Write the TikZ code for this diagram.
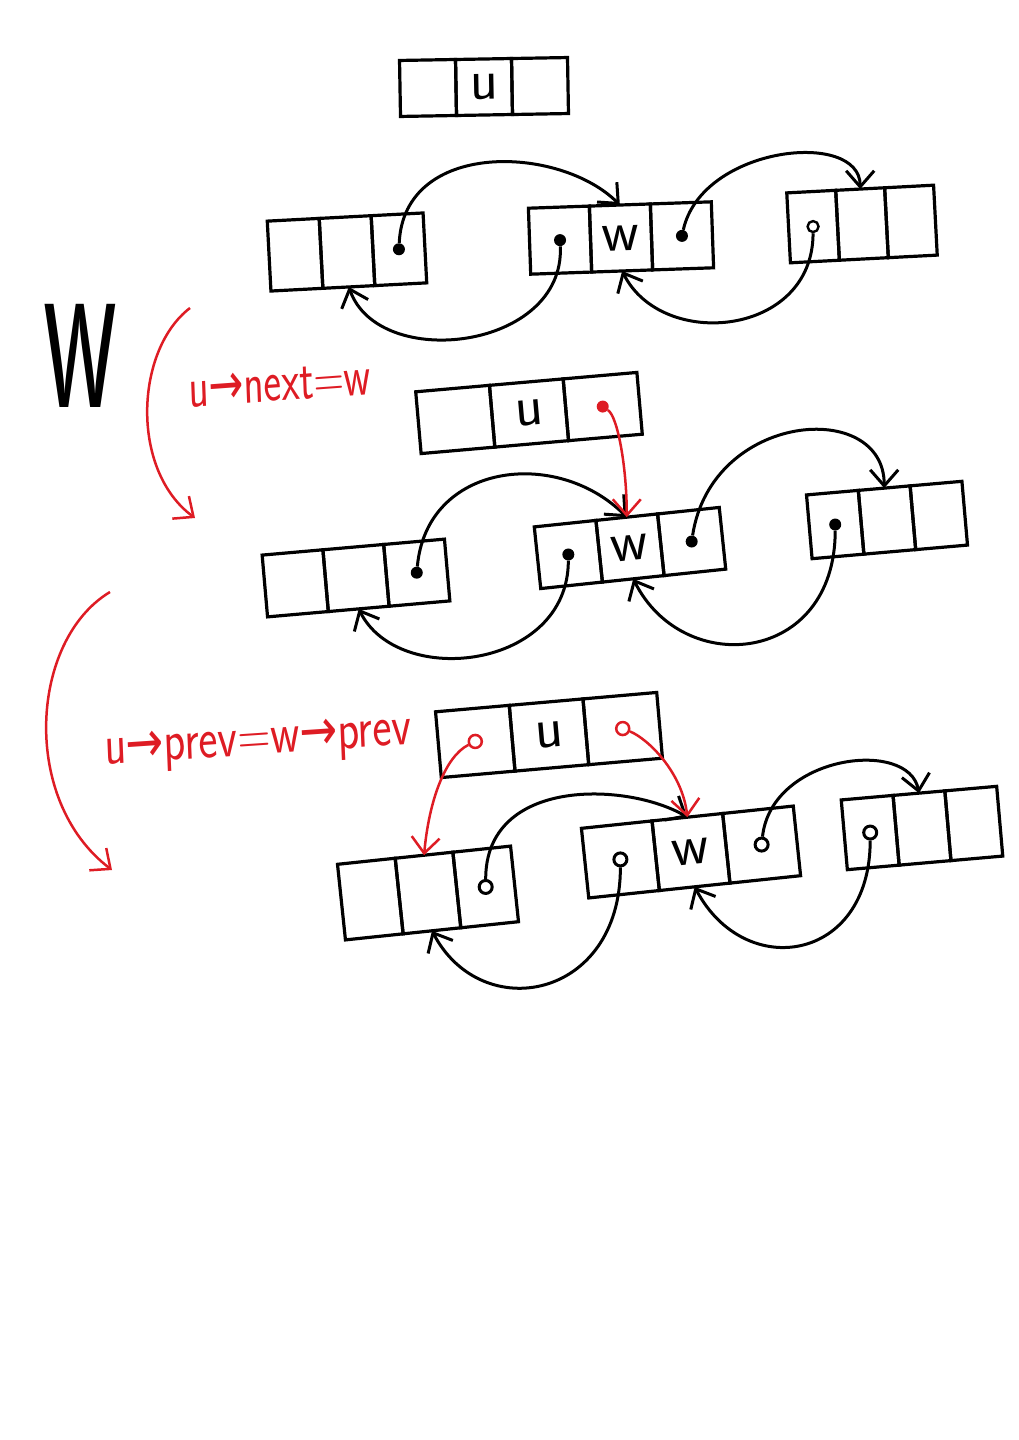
\documentclass[tikz,border=0pt]{standalone}
\usepackage{fontspec}
\newfontfamily\arrowfont{DejaVu Sans}
\usetikzlibrary{arrows.meta,positioning}
\definecolor{pen}{RGB}{222,28,36}
\newcommand\cellfont{\sffamily\fontsize{58}{58}\selectfont}
\newcommand\ptrsym{{\arrowfont →}}
\tikzset{
  cell/.style 2 args={draw, line width=3.2pt, inner sep=0pt, outer sep=0pt,
    minimum width=#1, minimum height=#2, font=\cellfont},
  dot/.style={circle, fill, inner sep=0pt, minimum size=12pt},
  ring/.style={circle, draw, line width=3pt, inner sep=0pt, minimum size=13pt},
  ptr/.style={line width=3pt, -{Straight Barb[length=16pt,width=28pt]}},
  redptr/.style={pen, line width=2.5pt, -{Straight Barb[length=16pt,width=28pt]}},
  note/.style={pen, inner sep=0pt, font=\sffamily\fontsize{58}{58}\selectfont},
}
\begin{document}
\begin{tikzpicture}[x=1pt,y=-1pt]
\useasboundingbox (0,0) rectangle (1019,1440);
% new node u
\node[cell={56}{56}, rotate=1] (u0m) at (484,87) {u};
\node[cell={56}{56}, rotate=1, left=0pt of u0m] (u0l) {};
\node[cell={56}{56}, rotate=1, right=0pt of u0m] (u0r) {};
% list before
\node[cell={52}{70}, rotate=3] (a1m) at (347,252) {};
\node[cell={52}{70}, rotate=3, left=0pt of a1m] (a1l) {};
\node[cell={52}{70}, rotate=3, right=0pt of a1m] (a1r) {};
\node[cell={61}{66}, rotate=2] (w1m) at (621,238) {w};
\node[cell={61}{66}, rotate=2, left=0pt of w1m] (w1l) {};
\node[cell={61}{66}, rotate=2, right=0pt of w1m] (w1r) {};
\node[cell={49}{70}, rotate=3] (b1m) at (862,224) {};
\node[cell={49}{70}, rotate=3, left=0pt of b1m] (b1l) {};
\node[cell={49}{70}, rotate=3, right=0pt of b1m] (b1r) {};
\node[dot] (a1p) at (a1r.center) {};
\node[dot] (w1q) at (w1l.center) {};
\node[dot] (w1p) at (w1r.center) {};
\node[ring, line width=2.4pt, minimum size=11pt] (b1q) at (b1l.center) {};
\draw[ptr] (a1p) .. controls +(5,-110) and +(-60,-60) .. (w1m.north);
\draw[ptr] (w1p) .. controls +(20,-90) and +(0,-60) .. (b1m.north);
\draw[ptr] (w1q) .. controls +(5,110) and +(30,85) .. (a1m.south);
\draw[ptr] (b1q) .. controls +(0,110) and +(40,80) .. (w1m.south);
% step 1
\node[font=\sffamily\fontsize{240}{240}\selectfont, xscale=0.48] (bigw) at (80,356) {w};
\coordinate (s1) at (190,308);
\coordinate (e1) at (195,518);
\draw[redptr] (s1) .. controls (135,350) and (130,470) .. (e1);
\node[note, xscale=0.72, rotate=3] (lnext) at (280,385) {u\ptrsym next=w};
\node[cell={74}{62}, rotate=5] (u2m) at (529,413) {u};
\node[cell={74}{62}, rotate=5, left=0pt of u2m] (u2l) {};
\node[cell={74}{62}, rotate=5, right=0pt of u2m] (u2r) {};
\node[cell={61}{62}, rotate=5] (a2m) at (356,578) {};
\node[cell={61}{62}, rotate=5, left=0pt of a2m] (a2l) {};
\node[cell={61}{62}, rotate=5, right=0pt of a2m] (a2r) {};
\node[cell={62}{62}, rotate=6] (w2m) at (630,548) {w};
\node[cell={62}{62}, rotate=6, left=0pt of w2m] (w2l) {};
\node[cell={62}{62}, rotate=6, right=0pt of w2m] (w2r) {};
\node[cell={52}{64}, rotate=5] (b2m) at (887,520) {};
\node[cell={52}{64}, rotate=5, left=0pt of b2m] (b2l) {};
\node[cell={52}{64}, rotate=5, right=0pt of b2m] (b2r) {};
\node[dot, pen] (u2p) at (u2r.center) {};
\node[dot] (a2p) at (a2r.center) {};
\node[dot] (w2q) at (w2l.center) {};
\node[dot] (w2p) at (w2r.center) {};
\node[dot] (b2q) at (b2l.center) {};
\draw[ptr] (a2p) .. controls +(10,-110) and +(-70,-70) .. (w2m.north);
\draw[ptr] (w2p) .. controls +(20,-130) and +(0,-90) .. (b2m.north);
\draw[ptr] (w2q) .. controls +(0,115) and +(40,80) .. (a2m.south);
\draw[ptr] (b2q) .. controls +(0,140) and +(50,100) .. (w2m.south);
\draw[redptr] (u2p) .. controls +(15,10) and +(0,-50) .. (w2m.north);
% step 2
\coordinate (s2) at (110,592);
\coordinate (e2) at (112,870);
\draw[redptr] (s2) .. controls (30,640) and (20,800) .. (e2);
\node[note, xscale=0.78, rotate=3] (lprev) at (258,745) {u\ptrsym prev=w\ptrsym prev};
\node[cell={74}{66}, rotate=5] (u3m) at (549,735) {u};
\node[cell={74}{66}, rotate=5, left=0pt of u3m] (u3l) {};
\node[cell={74}{66}, rotate=5, right=0pt of u3m] (u3r) {};
\node[cell={58}{76}, rotate=6] (a3m) at (428,893) {};
\node[cell={58}{76}, rotate=6, left=0pt of a3m] (a3l) {};
\node[cell={58}{76}, rotate=6, right=0pt of a3m] (a3r) {};
\node[cell={71}{70}, rotate=6] (w3m) at (691,852) {w};
\node[cell={71}{70}, rotate=6, left=0pt of w3m] (w3l) {};
\node[cell={71}{70}, rotate=6, right=0pt of w3m] (w3r) {};
\node[cell={52}{70}, rotate=5] (b3m) at (922,828) {};
\node[cell={52}{70}, rotate=5, left=0pt of b3m] (b3l) {};
\node[cell={52}{70}, rotate=5, right=0pt of b3m] (b3r) {};
\node[ring, pen, line width=2.5pt] (u3q) at (u3l.center) {};
\node[ring, pen, line width=2.5pt] (u3p) at (u3r.center) {};
\node[ring] (a3p) at (a3r.center) {};
\node[ring] (w3q) at (w3l.center) {};
\node[ring] (w3p) at (w3r.center) {};
\node[ring] (b3q) at (b3l.center) {};
\draw[ptr] (a3p) .. controls +(0,-110) and +(-60,-35) .. (w3m.north);
\draw[ptr] (w3p) .. controls +(10,-90) and +(-10,-55) .. (b3m.north);
\draw[ptr] (w3q) .. controls +(0,140) and +(50,95) .. (a3m.south);
\draw[ptr] (b3q) .. controls +(0,130) and +(50,95) .. (w3m.south);
\draw[redptr] (u3q) .. controls +(-30,15) and +(5,-55) .. (a3m.north);
\draw[redptr] (u3p) .. controls +(25,10) and +(-5,-45) .. (w3m.north);
\end{tikzpicture}
\end{document}
